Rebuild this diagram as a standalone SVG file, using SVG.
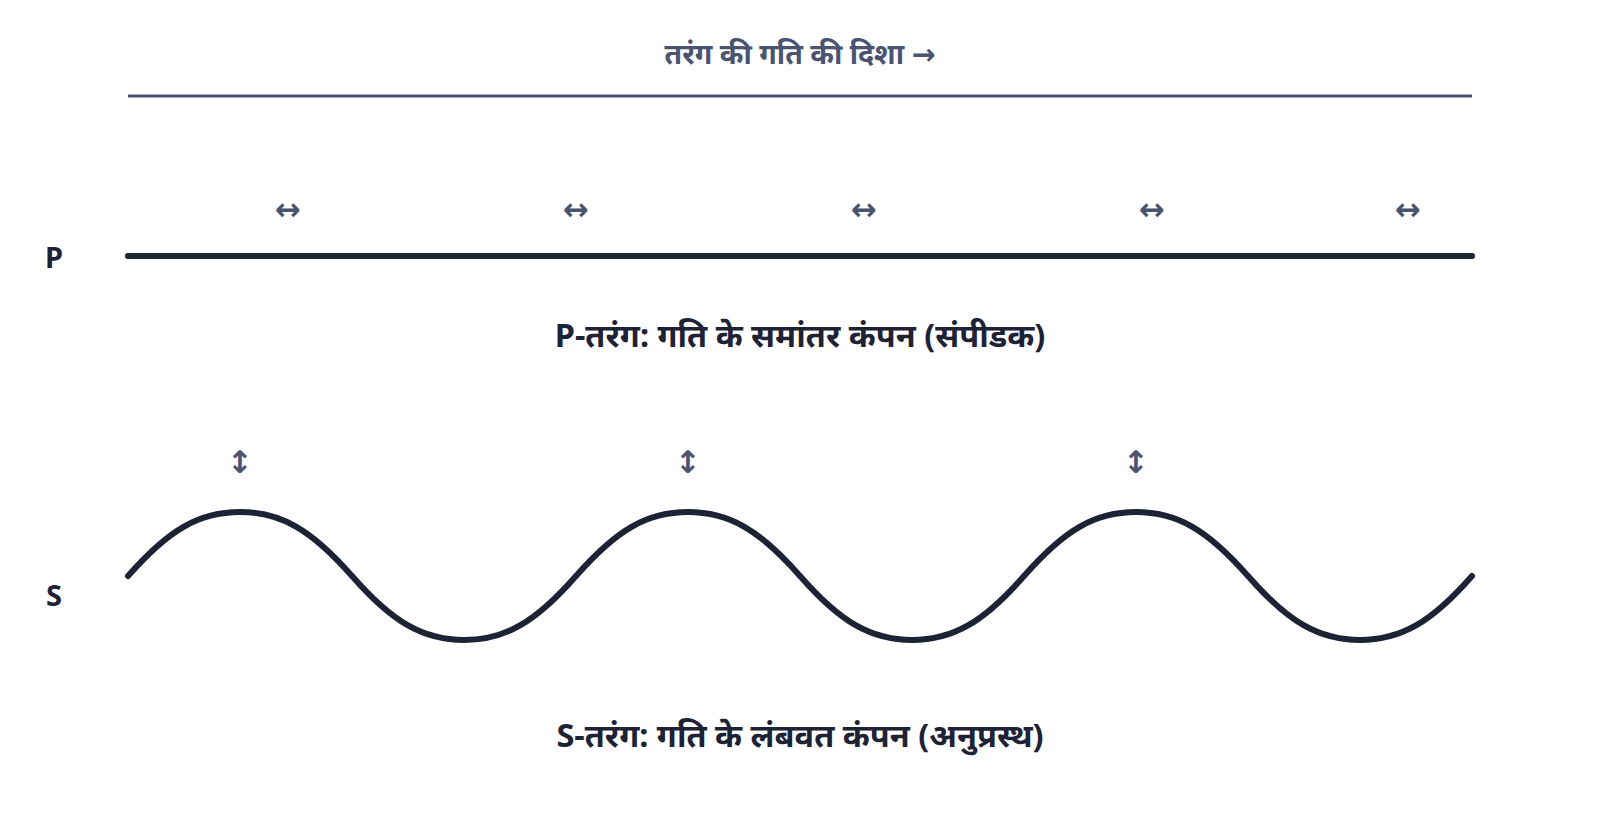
<svg xmlns="http://www.w3.org/2000/svg" width="1600" height="832" viewBox="0 0 1600 832">
<style>
text{font-family:"Noto Sans","Noto Sans Devanagari","DejaVu Sans",sans-serif;font-weight:700;text-anchor:middle}
.title{font-size:28.5px;fill:#4a5370}
.cap{font-size:32.5px;fill:#1e2235}
.side{font-size:29px;fill:#1e2235}
.arr{font-size:31px;fill:#4a5370;font-family:"DejaVu Sans",sans-serif;font-weight:700}
.ln{stroke:#1e2235;stroke-width:6;stroke-linecap:round;fill:none}
</style>
<rect width="1600" height="832" fill="#ffffff"/>
<g id="title">
<text class="title" x="800" y="64">तरंग की गति की दिशा →</text>
</g>
<g id="connectors">
<line x1="128" y1="96" x2="1472" y2="96" stroke="#4a5370" stroke-width="3"/>
</g>
<g id="p-wave">
<text class="side" x="54" y="268">P</text>
<line class="ln" x1="128" y1="256" x2="1472" y2="256"/>
<text class="arr" x="288" y="220">↔</text>
<text class="arr" x="576" y="220">↔</text>
<text class="arr" x="864" y="220">↔</text>
<text class="arr" x="1152" y="220">↔</text>
<text class="arr" x="1408" y="220">↔</text>
<text class="cap" x="800" y="347">P-तरंग: गति के समांतर कंपन (संपीडक)</text>
</g>
<g id="s-wave">
<text class="side" x="54" y="606">S</text>
<path class="ln" d="M128 576 C168.8 529.4 199.2 512 240 512 C280.8 512 311.2 529.4 352 576 C392.8 622.6 423.2 640 464 640 C504.8 640 535.2 622.6 576 576 C616.8 529.4 647.2 512 688 512 C728.8 512 759.2 529.4 800 576 C840.8 622.6 871.2 640 912 640 C952.8 640 983.2 622.6 1024 576 C1064.8 529.4 1095.2 512 1136 512 C1176.8 512 1207.2 529.4 1248 576 C1288.8 622.6 1319.2 640 1360 640 C1400.8 640 1431.2 622.6 1472 576"/>
<text class="arr" x="240" y="473">↕</text>
<text class="arr" x="688" y="473">↕</text>
<text class="arr" x="1136" y="473">↕</text>
<text class="cap" x="800" y="747">S-तरंग: गति के लंबवत कंपन (अनुप्रस्थ)</text>
</g>
</svg>
